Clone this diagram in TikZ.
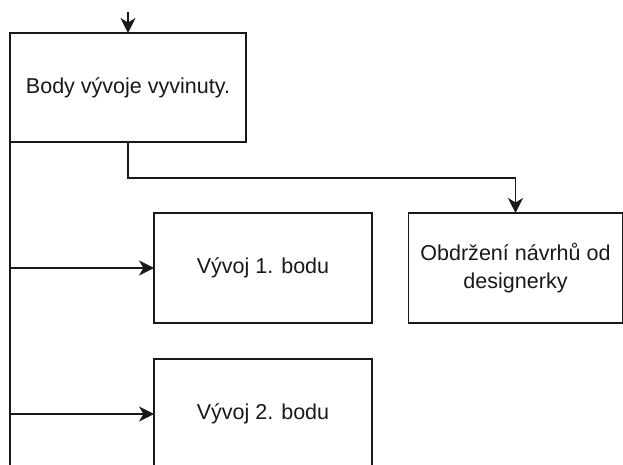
\documentclass[tikz,border=0pt]{standalone}
\usepackage{fontspec}
\setmainfont{Liberation Sans}
\usetikzlibrary{arrows.meta}
\begin{document}
\begin{tikzpicture}[x=1bp,y=-1bp,
  every node/.style={inner sep=0pt, outer sep=0pt},
  stepbox/.style={draw=black!90, line width=1.6bp, fill=white, align=center,
    font=\fontsize{21.6}{28}\selectfont, text=black!90},
  link/.style={draw=black!90, line width=1.6bp},
  arr/.style={link, -{Stealth[length=15bp, width=15bp, inset=4.5bp]}}]
\useasboundingbox (0,0) rectangle (623,465);
\clip (0,0) rectangle (623,465);

% process boxes
\node[stepbox, minimum width=236bp, minimum height=109bp] (body) at (128,87.5) {Body vývoje vyvinuty.};
\node[stepbox, minimum width=218bp, minimum height=110bp] (v1) at (263,268) {Vývoj 1. bodu};
\node[stepbox, minimum width=214bp, minimum height=110bp] (design) at (515.5,268) {Obdržení návrhů od\\designerky};
\node[stepbox, minimum width=218bp, minimum height=110bp] (v2) at (263,414) {Vývoj 2. bodu};

% incoming flow and bottom exit
\coordinate (in) at (128,12);
\coordinate (down) at (10,470);

% connectors
\draw[arr] (in) -- (body.north);
\draw[arr] (body.south) -- ++(0,36) -| (design.north);
\draw[link] (body.south west) -- (down);
\draw[arr] (body.south west |- v1.west) -- (v1.west);
\draw[arr] (body.south west |- v2.west) -- (v2.west);
\end{tikzpicture}
\end{document}
